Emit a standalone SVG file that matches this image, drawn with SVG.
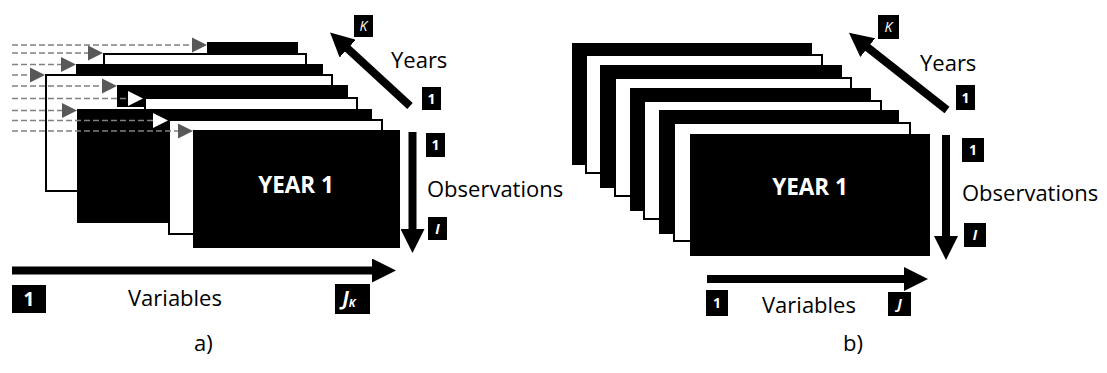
<svg xmlns="http://www.w3.org/2000/svg" width="1107" height="373" viewBox="0 0 1107 373">
  <style>
    .blk { fill: #000; }
    .wht { fill: #fff; stroke: #000; stroke-width: 2; }
    .lbl { font-family: "Open Sans", "Liberation Sans", sans-serif; font-size: 22px; fill: #000; }
    .title { font-family: "Open Sans", "Liberation Sans", sans-serif; font-size: 22.5px; font-weight: bold; fill: #fff; text-anchor: middle; }
    .tag { font-family: "Open Sans", "Liberation Sans", sans-serif; font-size: 14px; font-weight: bold; fill: #fff; text-anchor: middle; }
    .tagL { font-family: "Open Sans", "Liberation Sans", sans-serif; font-size: 19px; font-weight: bold; fill: #fff; text-anchor: middle; }
    .it { font-style: italic; }
    .axis { stroke: #000; stroke-width: 8; fill: none; marker-end: url(#bigHead); }
    .dash { stroke: #808080; stroke-width: 1.3; stroke-dasharray: 6 3; fill: none; }
  </style>
  <defs>
    <marker id="bigHead" markerUnits="userSpaceOnUse" markerWidth="24" markerHeight="24" viewBox="0 -12 24 24" refX="1" refY="0" orient="auto">
      <path d="M0,-12 L24,0 L0,12 z" fill="#000"/>
    </marker>
  </defs>

  <!-- ===== a) yearly tables with differing variable sets ===== -->
  <g id="a-year9"><rect class="blk" x="207" y="42" width="91" height="117"/></g>
  <g id="a-year8"><rect class="wht" x="104" y="54" width="202" height="115"/></g>
  <g id="a-year7"><rect class="blk" x="76" y="64" width="247" height="117"/></g>
  <g id="a-year6"><rect class="wht" x="46" y="75" width="286" height="116"/></g>
  <g id="a-year5"><rect class="blk" x="117" y="85" width="231" height="22"/><rect class="blk" x="144" y="107" width="204" height="95"/></g>
  <g id="a-year4"><rect class="wht" x="145" y="98" width="212" height="115"/></g>
  <g id="a-year3"><rect class="blk" x="77" y="109" width="295" height="114"/></g>
  <g id="a-year2"><rect class="wht" x="169" y="120" width="213" height="114"/></g>
  <g id="a-year1">
    <rect class="blk" x="193" y="130" width="207" height="118"/>
    <text class="title" x="296" y="193">YEAR 1</text>
  </g>

  <!-- column alignment pointers -->
  <g id="a-connectors">
    <line class="dash" x1="12" y1="45" x2="192" y2="45"/>
    <polygon points="192,37.5 207,45 192,52.5" fill="#595959"/>
    <line class="dash" x1="12" y1="53" x2="88" y2="53"/>
    <polygon points="88,45.5 103,53 88,60.5" fill="#595959"/>
    <line class="dash" x1="12" y1="64.5" x2="61" y2="64.5"/>
    <polygon points="61,57 76,64.5 61,72" fill="#595959"/>
    <line class="dash" x1="12" y1="75" x2="30" y2="75"/>
    <polygon points="30,67.5 45,75 30,82.5" fill="#595959"/>
    <line class="dash" x1="12" y1="86" x2="102" y2="86"/>
    <polygon points="102,78.5 117,86 102,93.5" fill="#595959"/>
    <line class="dash" x1="12" y1="98.5" x2="128" y2="98.5"/>
    <polygon points="128,91 143,98.5 128,106" fill="#fff"/>
    <line class="dash" x1="12" y1="110.5" x2="62" y2="110.5"/>
    <polygon points="62,103 77,110.5 62,118" fill="#595959"/>
    <line class="dash" x1="12" y1="120.5" x2="153" y2="120.5"/>
    <polygon points="153,113 168,120.5 153,128" fill="#fff"/>
    <line class="dash" x1="12" y1="131" x2="178" y2="131"/>
    <polygon points="178,123.5 193,131 178,138.5" fill="#595959"/>
  </g>

  <!-- axes of a) -->
  <g id="a-axes">
    <line class="axis" x1="410" y1="106" x2="347" y2="48"/>
    <line class="axis" x1="412.5" y1="132" x2="412.5" y2="230"/>
    <line class="axis" x1="12" y1="270.5" x2="373" y2="270.5"/>
  </g>
  <g id="a-labels">
    <rect class="blk" x="354" y="15" width="19" height="22"/>
    <text class="tag it" x="363.5" y="31" style="font-weight:normal">K</text>
    <text class="lbl" x="391" y="68">Years</text>
    <rect class="blk" x="422" y="87" width="19" height="23"/>
    <text class="tag" x="431.5" y="103.5">1</text>
    <rect class="blk" x="426" y="133" width="19" height="24"/>
    <text class="tag" x="435.5" y="150">1</text>
    <text class="lbl" x="427" y="197">Observations</text>
    <rect class="blk" x="428" y="217" width="19" height="23"/>
    <text class="tag it" x="437.5" y="233.5">I</text>
    <rect class="blk" x="12" y="285" width="34" height="28"/>
    <text class="tagL" x="29" y="306">1</text>
    <text class="lbl" x="128" y="306">Variables</text>
    <rect class="blk" x="335" y="284" width="35" height="30"/>
    <text class="tagL it" x="349" y="305">J<tspan font-size="11px" dy="2">K</tspan></text>
    <text class="lbl" x="194" y="351">a)</text>
  </g>

  <!-- ===== b) yearly tables with a common variable set ===== -->
  <g id="b-year9"><rect class="blk" x="572" y="43" width="240" height="122"/></g>
  <g id="b-year8"><rect class="wht" x="586" y="55" width="236" height="118"/></g>
  <g id="b-year7"><rect class="blk" x="600" y="65" width="242" height="123"/></g>
  <g id="b-year6"><rect class="wht" x="615" y="78" width="236" height="118"/></g>
  <g id="b-year5"><rect class="blk" x="630" y="88" width="241" height="123"/></g>
  <g id="b-year4"><rect class="wht" x="644" y="101" width="237" height="118"/></g>
  <g id="b-year3"><rect class="blk" x="659" y="110" width="240" height="124"/></g>
  <g id="b-year2"><rect class="wht" x="674" y="123" width="236" height="118"/></g>
  <g id="b-year1">
    <rect class="blk" x="690" y="134" width="240" height="122"/>
    <text class="title" x="810" y="195">YEAR 1</text>
  </g>

  <g id="b-axes">
    <line class="axis" x1="947" y1="110" x2="867" y2="47"/>
    <line class="axis" x1="946" y1="135" x2="946" y2="237"/>
    <line class="axis" x1="707" y1="279" x2="905" y2="279"/>
  </g>
  <g id="b-labels">
    <rect class="blk" x="878" y="15" width="21" height="24"/>
    <text class="tag it" x="888.5" y="32" style="font-weight:normal">K</text>
    <text class="lbl" x="920" y="71">Years</text>
    <rect class="blk" x="956" y="85" width="19" height="25"/>
    <text class="tag" x="965.5" y="102.5">1</text>
    <rect class="blk" x="962" y="138" width="22" height="24"/>
    <text class="tag" x="973" y="155">1</text>
    <text class="lbl" x="962" y="201">Observations</text>
    <rect class="blk" x="964" y="223" width="22" height="24"/>
    <text class="tag it" x="975" y="240">I</text>
    <rect class="blk" x="706" y="290" width="22" height="26"/>
    <text class="tag" x="717" y="308">1</text>
    <text class="lbl" x="762" y="313">Variables</text>
    <rect class="blk" x="888" y="292" width="23" height="24"/>
    <text class="tag it" x="899.5" y="309">J</text>
    <text class="lbl" x="843" y="351">b)</text>
  </g>
</svg>
